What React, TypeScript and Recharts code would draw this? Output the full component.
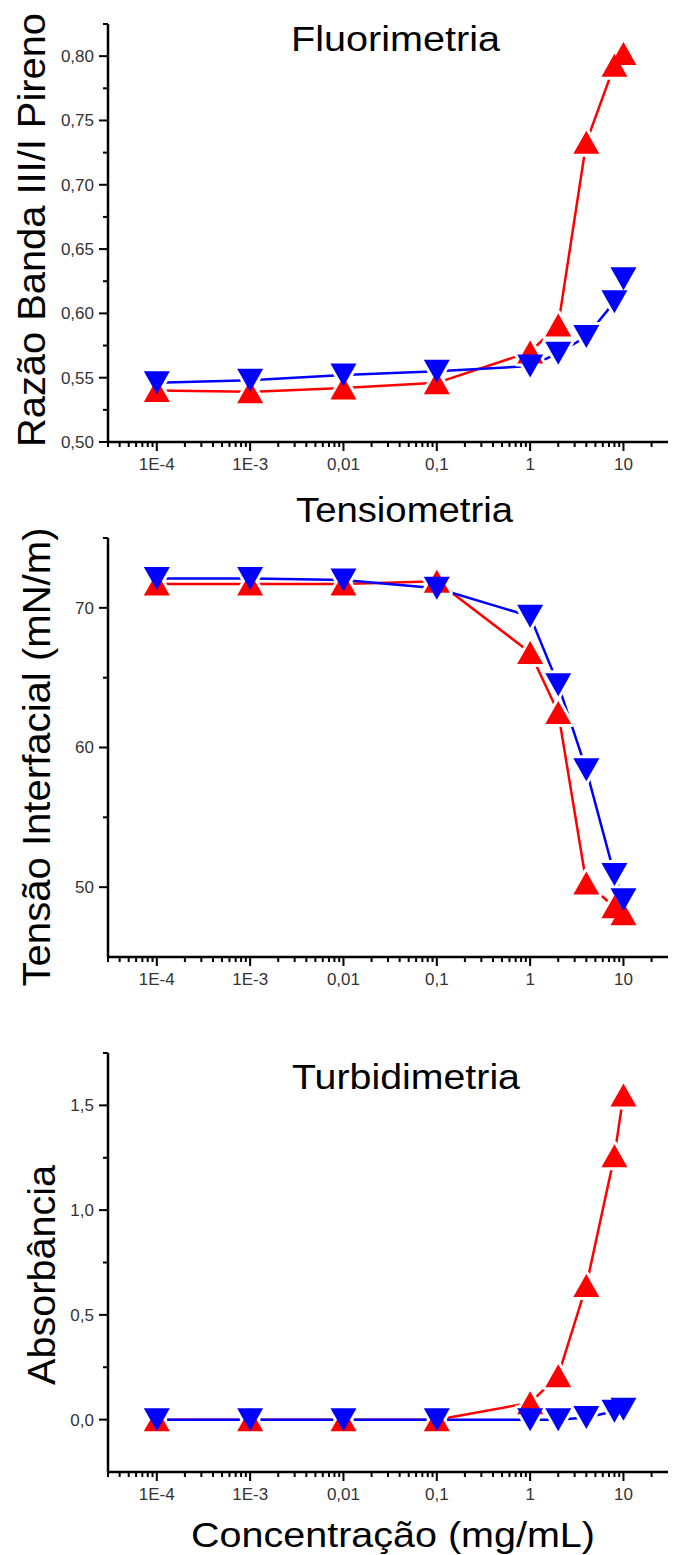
import React from 'react'
import { LineChart, Line, XAxis, YAxis } from 'recharts'

const FONT = '"Liberation Sans", Arial, Helvetica, sans-serif'

// concentrations (mg/mL)
const conc = [1e-4, 1e-3, 0.01, 0.1, 1, 2, 4, 8, 10]

// Fluorimetria - razão banda III/I do pireno
const fluorRed = [0.540, 0.539, 0.542, 0.546, 0.570, 0.591, 0.733, 0.793, 0.802]
const fluorBlue = [0.546, 0.548, 0.552, 0.555, 0.559, 0.569, 0.582, 0.609, 0.627]

// Tensiometria - tensão interfacial (mN/m)
const tensRed = [71.7, 71.7, 71.7, 71.9, 66.8, 62.5, 50.3, 48.6, 48.1]
const tensBlue = [72.1, 72.1, 72.0, 71.4, 69.4, 64.5, 58.4, 50.9, 49.1]

// Turbidimetria - absorbância
const turbRed = [0, 0, 0, 0, 0.08, 0.21, 0.64, 1.26, 1.55]
const turbBlue = [0, 0, 0, 0, 0, 0, 0.01, 0.04, 0.05]

const xMajor = [1e-4, 1e-3, 0.01, 0.1, 1, 10]
const xMajorLabels = ['1E-4', '1E-3', '0,01', '0,1', '1', '10']
const xMinor = [1e-5, 1e-4, 1e-3, 0.01, 0.1, 1, 10]
  .flatMap(d => [2, 3, 4, 5, 6, 7, 8, 9].map(k => +(k * d).toPrecision(3)))
  .filter(v => v >= 3e-5 && v <= 20)

const fluorMajor = [0.5, 0.55, 0.6, 0.65, 0.7, 0.75, 0.8]
const fluorLabels = ['0,50', '0,55', '0,60', '0,65', '0,70', '0,75', '0,80']
const fluorMinor = [0.525, 0.575, 0.625, 0.675, 0.725, 0.775, 0.825]

const tensMajor = [50, 60, 70]
const tensLabels = ['50', '60', '70']
const tensMinor = [55, 65, 75]

const turbMajor = [0, 0.5, 1, 1.5]
const turbLabels = ['0,0', '0,5', '1,0', '1,5']
const turbMinor = [0.25, 0.75, 1.25, 1.75]

const RED = '#ff0000'
const BLUE = '#0000ff'
const TICK_FONT = 17

const buildRows = (red: number[], blue: number[]) =>
  conc.map((x, i) => ({ x, red: red[i], blue: blue[i] }))

const TRI_W = 26
const TRI_H = 23

const triPath = (cx: number, cy: number, up: boolean) => {
  const s = up ? 1 : -1
  return `M${cx},${cy - (s * TRI_H) / 2} L${cx + TRI_W / 2},${cy + (s * TRI_H) / 2} L${cx - TRI_W / 2},${cy + (s * TRI_H) / 2} Z`
}

// marker factory: colour fill, optional white halo (gap between line and symbol, like Origin)
const makeDot = (up: boolean, color: string, halo: boolean) => (props: any) => {
  const { cx, cy, index } = props
  const key = `${up ? 'u' : 'd'}${halo ? 'h' : ''}${index}`
  if (cx == null || cy == null) return <g key={key} />
  if (halo) {
    return (
      <path key={key} d={triPath(cx, cy, up)} fill="#fff" stroke="#fff" strokeWidth={6} strokeLinejoin="round" />
    )
  }
  return <path key={key} d={triPath(cx, cy, up)} fill={color} />
}

const upHalo = makeDot(true, RED, true)
const downHalo = makeDot(false, BLUE, true)
const upDot = makeDot(true, RED, false)
const downDot = makeDot(false, BLUE, false)

const makeXTick = (majors: number[], labels: string[]) => (props: any) => {
  const { x, y, payload } = props
  const i = majors.indexOf(payload.value)
  const len = i >= 0 ? 9 : 5
  return (
    <g>
      <line x1={x} x2={x} y1={y} y2={y + len} stroke="#000" strokeWidth={2} />
      {i >= 0 && (
        <text x={x} y={y + 28} textAnchor="middle" fontSize={TICK_FONT} fontFamily={FONT} fill="#333">
          {labels[i]}
        </text>
      )}
    </g>
  )
}

const makeYTick = (majors: number[], labels: string[]) => (props: any) => {
  const { x, y, payload } = props
  const i = majors.indexOf(payload.value)
  const len = i >= 0 ? 9 : 5
  return (
    <g>
      <line x1={x - len} x2={x} y1={y} y2={y} stroke="#000" strokeWidth={2} />
      {i >= 0 && (
        <text x={x - 14} y={y} dy="0.35em" textAnchor="end" fontSize={TICK_FONT} fontFamily={FONT} fill="#333">
          {labels[i]}
        </text>
      )}
    </g>
  )
}

interface TitleSpec {
  text: string
  x: number
  y: number
  length: number
  size?: number
}

// horizontal texts (panel titles, x axis title), chart coordinates
const HTitles = ({ items }: { items: TitleSpec[] }) => (
  <g>
    {items.map(t => (
      <text
        key={t.text}
        x={t.x}
        y={t.y}
        fontSize={t.size ?? 35}
        fontFamily={FONT}
        fill="#000"
        textLength={t.length}
        lengthAdjust="spacingAndGlyphs"
      >
        {t.text}
      </text>
    ))}
  </g>
)

const YTitle = ({ spec }: { spec: TitleSpec }) => (
  <text
    transform={`translate(${spec.x},${spec.y}) rotate(-90)`}
    textAnchor="middle"
    fontSize={spec.size ?? 38}
    fontFamily={FONT}
    fill="#000"
    textLength={spec.length}
    lengthAdjust="spacingAndGlyphs"
  >
    {spec.text}
  </text>
)

interface PanelProps {
  top: number
  height: number
  marginTop: number
  xAxisHeight: number
  red: number[]
  blue: number[]
  yDomain: [number, number]
  yMajor: number[]
  yLabels: string[]
  yMinor: number[]
  yTitle: TitleSpec
  titles: TitleSpec[]
}

const Panel: React.FC<PanelProps> = p => {
  const rows = buildRows(p.red, p.blue)
  return (
    <div style={{ position: 'absolute', left: 0, top: p.top, width: 673, height: p.height }}>
      <LineChart
        width={673}
        height={p.height}
        data={rows}
        margin={{ top: p.marginTop, right: 5, bottom: 0, left: 0 }}
      >
        <XAxis
          dataKey="x"
          type="number"
          scale="log"
          domain={[3e-5, 30]}
          allowDataOverflow
          ticks={[...xMinor, ...xMajor].sort((a, b) => a - b)}
          interval={0}
          tickSize={0}
          tickMargin={0}
          tickLine={false}
          tick={makeXTick(xMajor, xMajorLabels)}
          axisLine={{ stroke: '#000', strokeWidth: 2.5 }}
          height={p.xAxisHeight}
          label={<HTitles items={p.titles} />}
        />
        <YAxis
          type="number"
          domain={p.yDomain}
          allowDataOverflow
          ticks={[...p.yMajor, ...p.yMinor].sort((a, b) => a - b)}
          interval={0}
          tickSize={0}
          tickMargin={0}
          tickLine={false}
          tick={makeYTick(p.yMajor, p.yLabels)}
          axisLine={{ stroke: '#000', strokeWidth: 2.5 }}
          width={108}
          label={<YTitle spec={p.yTitle} />}
        />
        {/* connecting lines */}
        <Line type="linear" dataKey="red" stroke={RED} strokeWidth={2.5} dot={false} activeDot={false} isAnimationActive={false} />
        <Line type="linear" dataKey="blue" stroke={BLUE} strokeWidth={2.5} dot={false} activeDot={false} isAnimationActive={false} />
        {/* white gaps around symbols */}
        <Line type="linear" dataKey="red" stroke="none" dot={upHalo} activeDot={false} isAnimationActive={false} />
        <Line type="linear" dataKey="blue" stroke="none" dot={downHalo} activeDot={false} isAnimationActive={false} />
        {/* symbols */}
        <Line type="linear" dataKey="red" stroke="none" dot={upDot} activeDot={false} isAnimationActive={false} />
        <Line type="linear" dataKey="blue" stroke="none" dot={downDot} activeDot={false} isAnimationActive={false} />
      </LineChart>
    </div>
  )
}

export default function App() {
  return (
    <div style={{ position: 'absolute', left: 0, top: 0, width: 673, height: 1555, background: '#fff' }}>
      <Panel
        top={0}
        height={480}
        marginTop={24}
        xAxisHeight={38}
        red={fluorRed}
        blue={fluorBlue}
        yDomain={[0.5, 0.825]}
        yMajor={fluorMajor}
        yLabels={fluorLabels}
        yMinor={fluorMinor}
        yTitle={{ text: 'Razão Banda III/I Pireno', x: 45, y: 230, length: 434 }}
        titles={[{ text: 'Fluorimetria', x: 291, y: 51, length: 209 }]}
      />
      <Panel
        top={480}
        height={520}
        marginTop={58}
        xAxisHeight={43}
        red={tensRed}
        blue={tensBlue}
        yDomain={[45, 75]}
        yMajor={tensMajor}
        yLabels={tensLabels}
        yMinor={tensMinor}
        yTitle={{ text: 'Tensão Interfacial (mN/m)', x: 50, y: 277, length: 459 }}
        titles={[{ text: 'Tensiometria', x: 296, y: 42, length: 217 }]}
      />
      <Panel
        top={1000}
        height={555}
        marginTop={53}
        xAxisHeight={83}
        red={turbRed}
        blue={turbBlue}
        yDomain={[-0.25, 1.75]}
        yMajor={turbMajor}
        yLabels={turbLabels}
        yMinor={turbMinor}
        yTitle={{ text: 'Absorbância', x: 55, y: 275, length: 220 }}
        titles={[
          { text: 'Turbidimetria', x: 292, y: 89, length: 228 },
          { text: 'Concentração (mg/mL)', x: 191, y: 547, length: 404 },
        ]}
      />
    </div>
  )
}
